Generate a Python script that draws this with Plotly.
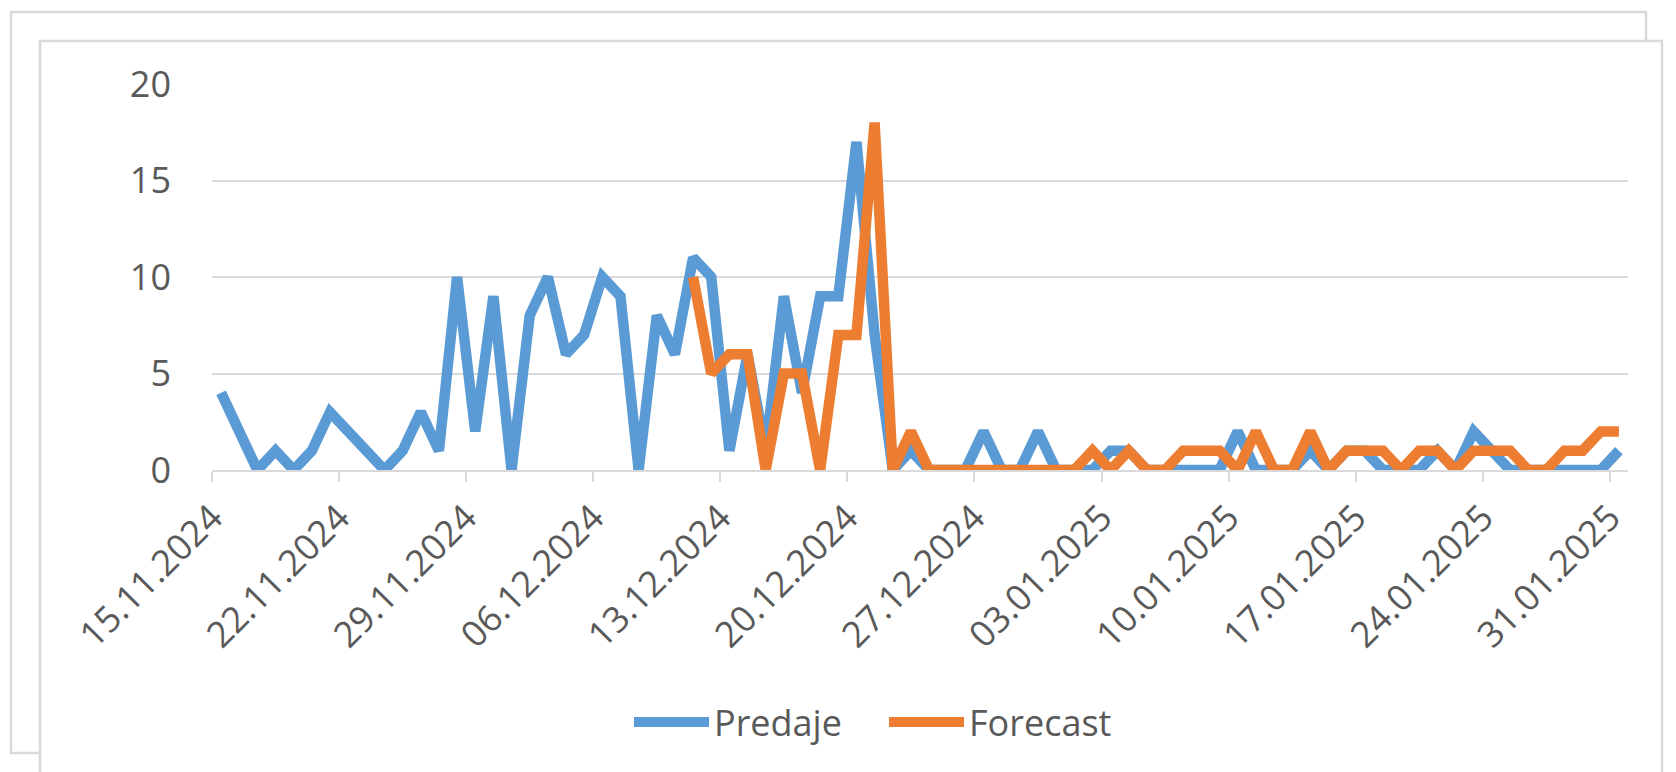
import pandas as pd
import plotly.graph_objects as go

# ---- data -------------------------------------------------------------
start_date = "2024-11-15"
end_date = "2025-01-31"
dates = pd.date_range(start_date, end_date, freq="D")

predaje = [4, 2, 0, 1, 0, 1, 3, 2, 1, 0,
           1, 3, 1, 10, 2, 9, 0, 8, 10, 6,
           7, 10, 9, 0, 8, 6, 11, 10, 1, 6,
           1, 9, 4, 9, 9, 17, 7, 0, 1, 0,
           0, 0, 2, 0, 0, 2, 0, 0, 0, 1,
           1, 0, 0, 0, 0, 0, 2, 0, 0, 0,
           1, 0, 1, 1, 0, 0, 0, 1, 0, 2,
           1, 0, 0, 0, 0, 0, 0, 1]

forecast_start = 26
forecast_vals = [10, 5, 6, 6, 0, 5, 5, 0, 7, 7, 18, 0, 2,
                 0, 0, 0, 0, 0, 0, 0, 0, 0,
                 1, 0, 1, 0, 0, 1, 1, 1, 0, 2,
                 0, 0, 2, 0, 1, 1, 1, 0, 1, 1,
                 0, 1, 1, 1, 0, 0, 1, 1, 2, 2]
forecast = [None] * forecast_start + forecast_vals

series_names = ["Predaje", "Forecast"]
series_colors = ["#5B9BD5", "#ED7D31"]

# ---- layout geometry ----------------------------------------------------
W, H = 1676, 772
L, R, T, B = 212, 48, 84, 302
PW, PH = W - L - R, H - T - B


def px(x):
    return (x - L) / PW


def py(y):
    return (H - B - y) / PH


# Excel date axis: each day occupies a slot, point in the middle of the slot
x_mid = dates + pd.Timedelta(hours=12)

fig = go.Figure()
for name, vals, col in zip(series_names, [predaje, forecast], series_colors):
    fig.add_trace(go.Scatter(
        x=x_mid, y=vals, mode="lines", name=name,
        line=dict(color=col, width=10.5),
        connectgaps=False,
    ))

grey = "#d9d9d9"
txt = "#595959"
font_family = "Open Sans"

shapes = [
    # outer (background) chart frame
    dict(type="rect", xref="paper", yref="paper",
         x0=px(11), x1=px(1646), y0=py(12), y1=py(753),
         line=dict(color=grey, width=2.5), fillcolor="white", layer="below"),
    # inner chart frame
    dict(type="rect", xref="paper", yref="paper",
         x0=px(40), x1=px(1662), y0=py(41), y1=py(820),
         line=dict(color=grey, width=2.5), fillcolor="white", layer="below"),
]

fig.update_layout(
    width=W, height=H,
    margin=dict(l=L, r=R, t=T, b=B, pad=0),
    paper_bgcolor="white", plot_bgcolor="white",
    font=dict(family=font_family, color=txt, size=36),
    showlegend=True,
    legend=dict(orientation="h", x=px(884), y=py(722),
                xanchor="center", yanchor="middle",
                font=dict(size=36, color=txt), bgcolor="rgba(0,0,0,0)",
                itemwidth=75, entrywidthmode="pixels", entrywidth=165),
    shapes=shapes,
)

fig.update_xaxes(
    type="date",
    range=[pd.Timestamp(start_date), pd.Timestamp(end_date) + pd.Timedelta(days=1)],
    tick0=pd.Timestamp(start_date), dtick=7 * 86400000,
    tickformat="%d.%m.%Y", tickangle=-45,
    ticks="outside", ticklen=10, tickwidth=2, tickcolor=grey,
    showline=True, linecolor=grey, linewidth=2,
    showgrid=False, zeroline=False,
    tickfont=dict(size=36, color=txt, family=font_family),
)

fig.update_yaxes(
    range=[0, 20], dtick=5, tick0=0,
    showgrid=True, gridcolor=grey, gridwidth=2,
    zeroline=False, showline=False, ticks="",
    ticklabelstandoff=40,
    tickfont=dict(size=36, color=txt, family=font_family),
)

fig.write_html("out.html", config={"displayModeBar": False},
               post_script="document.body.style.margin='0';")
